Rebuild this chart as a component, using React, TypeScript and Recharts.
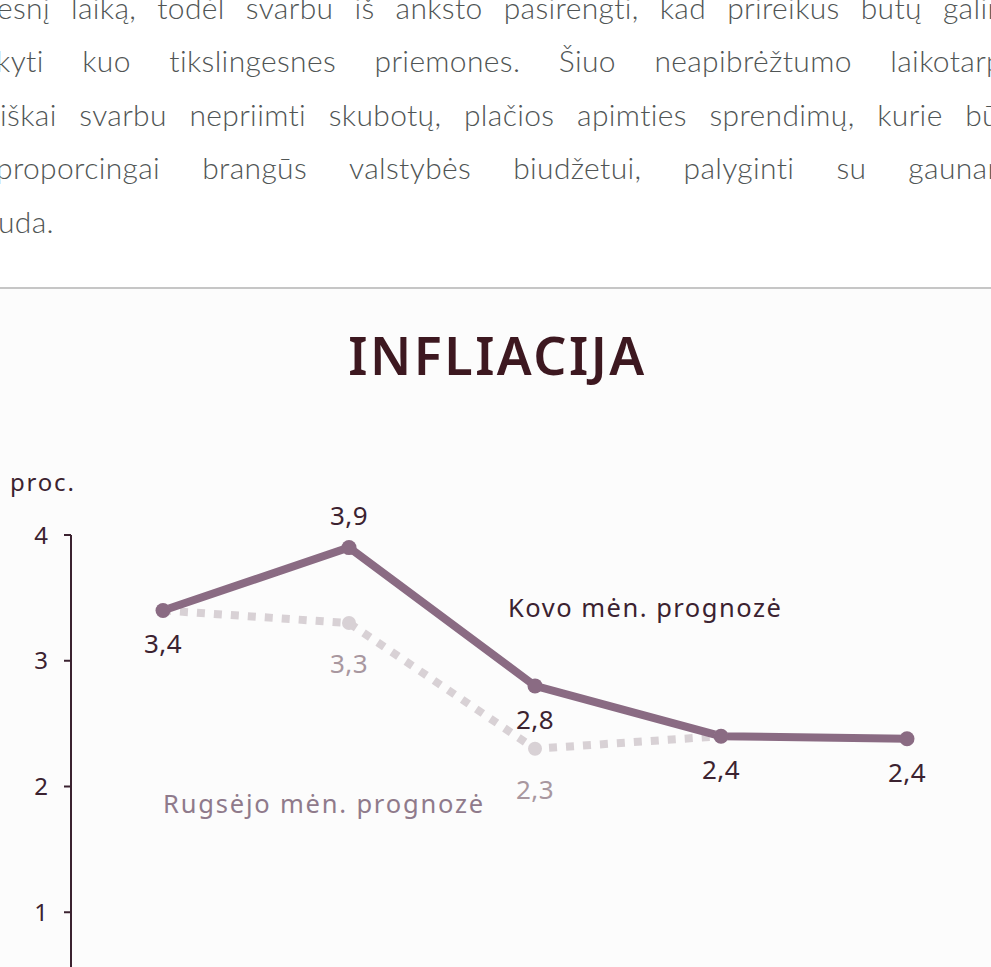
import React from 'react';
import { LineChart, Line, XAxis, YAxis } from 'recharts';

// ---- data ----
const years = ['2024', '2025', '2026', '2027', '2028'];
const kovoValues: (number | null)[] = [3.4, 3.9, 2.8, 2.4, 2.38];
const rugsejoValues: (number | null)[] = [3.4, 3.3, 2.3, 2.4, null];
const yTicks = [0, 1, 2, 3, 4];

const paragraphLines = [
  'esnį laiką, todėl svarbu iš anksto pasirengti, kad prireikus būtų galim',
  'kyti kuo tikslingesnes priemones. Šiuo neapibrėžtumo laikotarp',
  'iškai svarbu nepriimti skubotų, plačios apimties sprendimų, kurie bū',
  'proporcingai brangūs valstybės biudžetui, palyginti su gaunam',
  'uda.',
];

const data = years.map((y, i) => ({ year: y, kovo: kovoValues[i], rugsejo: rugsejoValues[i] }));

// ---- styles ----
const SOLID = '#8a6b83';
const LIGHT = '#d8d1d5';
const DARK = '#3b2230';
const LIGHT_LABEL = '#a8979f';
const FONT = '"Noto Sans", sans-serif';

const fmt = (v: number) => v.toFixed(1).replace('.', ',');

const lineLayouts = [
  { left: -3, right: 1012, top: -13 },
  { left: -4, right: 1003, top: 40 },
  { left: 0, right: 999, top: 94 },
  { left: -4, right: 1012, top: 147 },
  { left: -2, right: 400, top: 201 },
];

const kovoLabel = (p: any) => {
  const { x, y, index } = p;
  const v = kovoValues[index];
  if (v == null || x == null || y == null) return null;
  const prev = kovoValues[index - 1];
  const next = kovoValues[index + 1];
  const above = (prev == null || v > prev) && (next == null || v > next);
  return (
    <text
      key={`k${index}`}
      x={x}
      y={y + (above ? -33 : 33)}
      textAnchor="middle"
      dominantBaseline="central"
      fontFamily={FONT}
      fontSize={26}
      letterSpacing={0.5}
      fill={DARK}
    >
      {fmt(v)}
    </text>
  );
};

const rugsejoLabel = (p: any) => {
  const { x, y, index } = p;
  const v = rugsejoValues[index];
  if (v == null || x == null || y == null) return null;
  if (kovoValues[index] === v) return null;
  return (
    <text
      key={`r${index}`}
      x={x}
      y={y + 40}
      textAnchor="middle"
      dominantBaseline="central"
      fontFamily={FONT}
      fontSize={26}
      letterSpacing={0.5}
      fill={LIGHT_LABEL}
    >
      {fmt(v)}
    </text>
  );
};

export default function App() {
  return (
    <div
      style={{
        position: 'fixed',
        left: 0,
        top: 0,
        width: 991,
        height: 967,
        overflow: 'hidden',
        background: '#ffffff',
      }}
    >
      {paragraphLines.map((line, i) => {
        const l = lineLayouts[i];
        const words = line.split(' ');
        return (
          <div
            key={i}
            style={{
              position: 'absolute',
              left: l.left,
              top: l.top,
              width: i === 4 ? undefined : l.right - l.left,
              display: 'flex',
              justifyContent: i === 4 ? 'flex-start' : 'space-between',
              whiteSpace: 'nowrap',
              fontFamily: 'Lato, sans-serif',
              fontWeight: 300,
              fontSize: 30,
              letterSpacing: 0.35,
              lineHeight: '40px',
              color: '#505555',
              columnGap: 7,
            }}
          >
            {words.map((w, j) => (
              <span key={j}>{w}</span>
            ))}
          </div>
        );
      })}

      <div
        style={{
          position: 'absolute',
          left: 0,
          top: 287,
          width: 991,
          height: 2,
          background: '#c6c6c6',
        }}
      />
      <div
        style={{
          position: 'absolute',
          left: 0,
          top: 289,
          width: 991,
          height: 700,
          background: '#fcfcfc',
        }}
      />

      <div
        style={{
          position: 'absolute',
          left: 0,
          top: 325,
          width: 995,
          textAlign: 'center',
          fontFamily: FONT,
          fontWeight: 600,
          fontSize: 52,
          lineHeight: '60px',
          letterSpacing: 2.5,
          color: '#3d1820',
        }}
      >
        INFLIACIJA
      </div>

      <div
        style={{
          position: 'absolute',
          left: 10,
          top: 467,
          fontFamily: FONT,
          fontSize: 24,
          lineHeight: '30px',
          letterSpacing: 1.8,
          color: DARK,
        }}
      >
        proc.
      </div>

      <div
        style={{
          position: 'absolute',
          left: 508,
          top: 592,
          fontFamily: FONT,
          fontSize: 25.5,
          lineHeight: '30px',
          letterSpacing: 1.5,
          color: DARK,
        }}
      >
        Kovo mėn. prognozė
      </div>

      <div
        style={{
          position: 'absolute',
          left: 163,
          top: 788,
          fontFamily: FONT,
          fontSize: 25.5,
          lineHeight: '30px',
          letterSpacing: 1.8,
          color: '#8f7a8b',
        }}
      >
        Rugsėjo mėn. prognozė
      </div>

      <div style={{ position: 'absolute', left: 0, top: 289 }}>
        <LineChart
          width={991}
          height={769}
          data={data}
          margin={{ top: 246, right: 0, bottom: 20, left: 11 }}
        >
          <XAxis dataKey="year" hide padding={{ left: 92, right: 84 }} />
          <YAxis
            width={60}
            domain={[0, 4]}
            ticks={yTicks}
            interval={0}
            tickSize={7}
            tickMargin={16}
            axisLine={{ stroke: DARK, strokeWidth: 2 }}
            tickLine={{ stroke: DARK, strokeWidth: 2 }}
            tick={{ fill: DARK, fontSize: 24, fontFamily: FONT }}
          />
          <Line
            type="linear"
            dataKey="rugsejo"
            stroke={LIGHT}
            strokeWidth={8}
            strokeDasharray="8 9"
            dot={{ r: 7, fill: LIGHT, stroke: LIGHT, strokeWidth: 0 }}
            activeDot={false}
            label={rugsejoLabel}
            isAnimationActive={false}
          />
          <Line
            type="linear"
            dataKey="kovo"
            stroke={SOLID}
            strokeWidth={8}
            dot={{ r: 7.5, fill: SOLID, stroke: SOLID, strokeWidth: 0 }}
            activeDot={false}
            label={kovoLabel}
            isAnimationActive={false}
          />
        </LineChart>
      </div>
    </div>
  );
}
